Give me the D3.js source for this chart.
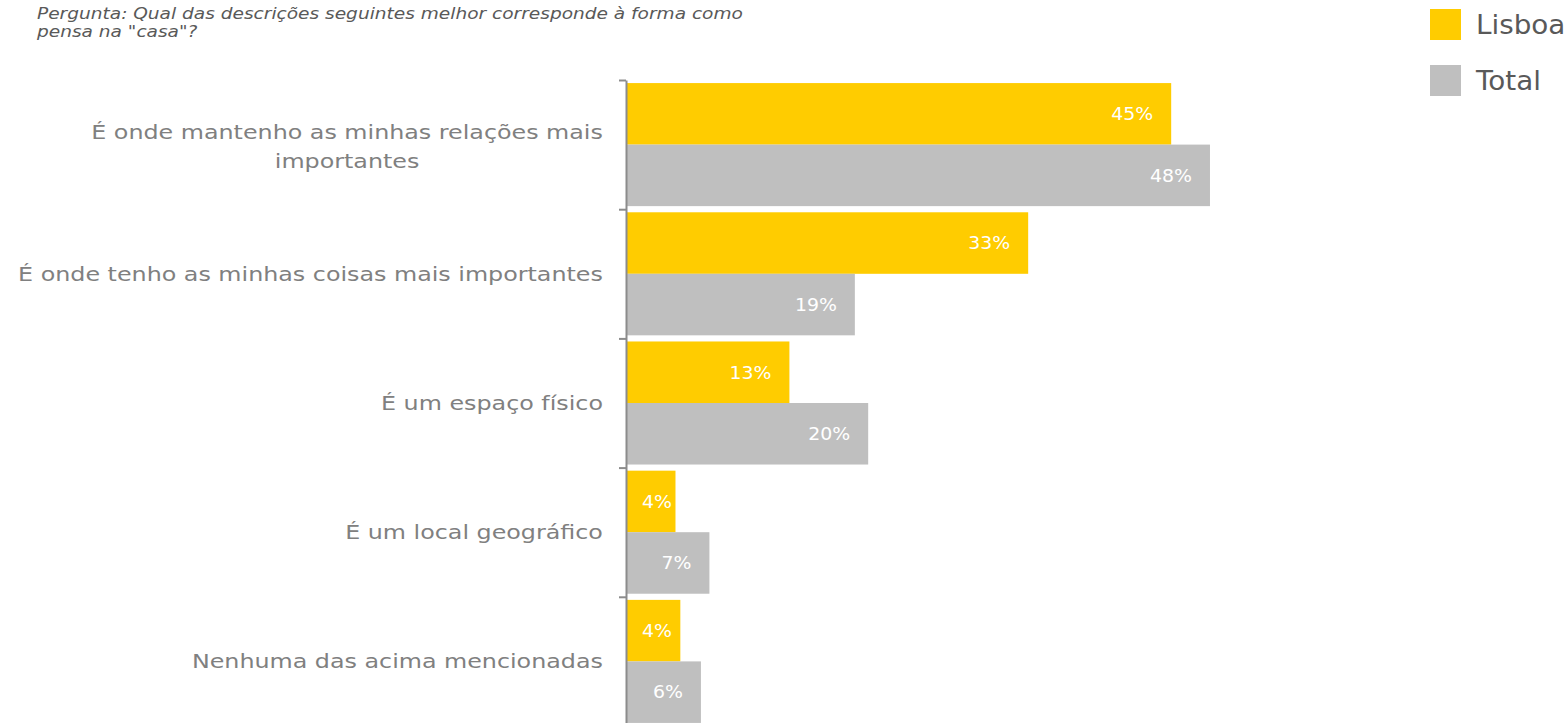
<!DOCTYPE html>
<html>
<head>
<meta charset="utf-8">
<script src="https://cdn.jsdelivr.net/npm/d3@7"></script>
<style>
  body { margin: 0; background: #fff; }
  svg { display: block; font-family: "DejaVu Sans", Verdana, sans-serif; }
</style>
</head>
<body>
<div id="chart"></div>
<script>

var categories = [
  ["É onde mantenho as minhas relações mais", "importantes"],
  ["É onde tenho as minhas coisas mais importantes"],
  ["É um espaço físico"],
  ["É um local geográfico"],
  ["Nenhuma das acima mencionadas"]
];
var seriesNames = ["Lisboa", "Total"];
var lisboa = [44.9, 33.1, 13.4, 4.0, 4.4];
var total = [48.1, 18.8, 19.9, 6.8, 6.1];
var title = ["Pergunta: Qual das descrições seguintes melhor corresponde à forma como", "pensa na \"casa\"?"];

var colors = { "Lisboa": "#FFCC00", "Total": "#BFBFBF" };

var width = 1568, height = 723;

var svg = d3.select("#chart").append("svg")
  .attr("width", width)
  .attr("height", height);

var data = categories.map(function (c, i) {
  return { idx: i, label: c, Lisboa: lisboa[i], Total: total[i] };
});

var x = d3.scaleLinear().domain([0, 50]).range([627, 627 + 50 * 12.12]);

var y = d3.scaleBand()
  .domain(d3.range(categories.length))
  .range([80, 726])
  .padding(0);

var ySub = d3.scaleBand()
  .domain(seriesNames)
  .range([0, y.bandwidth()])
  .paddingInner(0)
  .paddingOuter(0.05);

// the source text is drawn wider than DejaVu, so stretch it horizontally
function place(sel, px, py, sx) {
  sel.attr("transform", "translate(" + px + "," + py + ") scale(" + sx + ",1)");
}

// title
svg.append("g").selectAll("text")
  .data(title)
  .enter().append("text")
  .attr("font-size", 16)
  .attr("font-style", "italic")
  .attr("fill", "#595959")
  .text(function (d) { return d; })
  .each(function (d, i) { place(d3.select(this), 37, 19 + i * 18, 1.16); });

// bars
var groups = svg.append("g").selectAll("g")
  .data(data)
  .enter().append("g")
  .attr("transform", function (d) { return "translate(0," + y(d.idx) + ")"; });

var fmt = function (v) { return d3.format(".0f")(v) + "%"; };
var valSx = 1.05;

seriesNames.forEach(function (s) {
  groups.append("rect")
    .attr("x", x(0))
    .attr("y", ySub(s))
    .attr("width", function (d) { return x(d[s]) - x(0); })
    .attr("height", ySub.bandwidth())
    .attr("fill", colors[s]);

  groups.append("text")
    .attr("dy", "0.35em")
    .attr("font-size", 18)
    .attr("fill", "#fff")
    .attr("text-anchor", "end")
    .text(function (d) { return fmt(d[s]); })
    .each(function (d) {
      var w = this.getComputedTextLength() * valSx;
      var endX = Math.max(x(d[s]) - 18, x(0) + 15 + w);
      place(d3.select(this), endX, ySub(s) + ySub.bandwidth() / 2, valSx);
    });
});

// axis with ticks on band edges
var yEdge = d3.scaleLinear().domain([0, categories.length]).range([80, 726]);
var axis = svg.append("g")
  .attr("transform", "translate(" + (x(0) - 1) + ",0)")
  .call(d3.axisLeft(yEdge).ticks(categories.length).tickFormat("").tickSize(7).tickSizeOuter(0));
axis.select(".domain").attr("stroke", "#8c8c8c").attr("stroke-width", 2);
axis.selectAll(".tick line").attr("stroke", "#8c8c8c").attr("stroke-width", 2);

// category labels: block right-aligned, lines centred in block
var labelRight = 603;
var labSx = 1.19;
var labels = svg.append("g").selectAll("g")
  .data(data)
  .enter().append("g");

labels.each(function (d) {
  var g = d3.select(this);
  var cy = y(d.idx) + y.bandwidth() / 2;
  var lh = 29;
  var texts = g.selectAll("text")
    .data(d.label)
    .enter().append("text")
    .attr("font-size", 20)
    .attr("fill", "#808080")
    .attr("text-anchor", "middle")
    .attr("dy", "0.35em")
    .text(function (l) { return l; });
  var maxW = 0;
  texts.each(function () { maxW = Math.max(maxW, this.getComputedTextLength() * labSx); });
  var shift = d.label.length > 1 ? 2 : 0;
  texts.each(function (l, i) {
    place(d3.select(this), labelRight - maxW / 2,
      cy + shift + (i - (d.label.length - 1) / 2) * lh, labSx);
  });
});

// legend
var legend = svg.append("g").selectAll("g")
  .data(seriesNames)
  .enter().append("g")
  .attr("transform", function (d, i) { return "translate(1430," + (9 + i * 56) + ")"; });

legend.append("rect")
  .attr("width", 31)
  .attr("height", 31)
  .attr("fill", function (d) { return colors[d]; });

legend.append("text")
  .attr("dy", "0.35em")
  .attr("font-size", 26)
  .attr("fill", "#595959")
  .text(function (d) { return d; })
  .each(function () { place(d3.select(this), 46, 16, 1.07); });

</script>
</body>
</html>
